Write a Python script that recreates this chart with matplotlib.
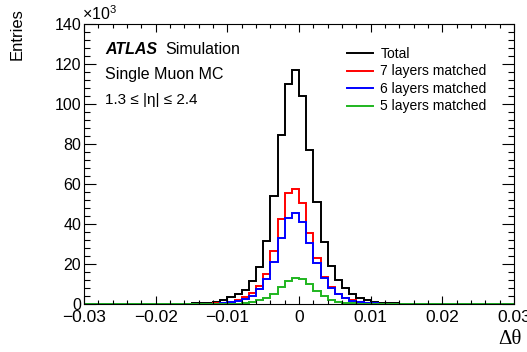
import numpy as np
import matplotlib
matplotlib.use("Agg")
import matplotlib.pyplot as plt
from matplotlib.ticker import MultipleLocator, FuncFormatter

plt.rcParams["font.family"] = ["Liberation Sans", "DejaVu Sans"]
plt.rcParams["mathtext.fontset"] = "custom"
plt.rcParams["mathtext.rm"] = "Liberation Sans"
plt.rcParams["mathtext.it"] = "Liberation Sans:italic"

# ── data: Δθ histograms, 60 bins of 0.001 from -0.03 to 0.03, entries in 10^3 ──
edges = np.round(np.linspace(-0.03, 0.03, 61), 4)

total = [0.05, 0.05, 0.05, 0.1, 0.1, 0.1, 0.1, 0.15, 0.15, 0.2,
         0.2, 0.25, 0.3, 0.35, 0.4, 0.5, 0.6, 0.8, 1.3, 2.2,
         3.5, 5.0, 7.2, 11.5, 18.8, 31.6, 54.1, 84.7, 110.2, 117.3,
         104.3, 77.2, 51.0, 31.3, 19.2, 12.2, 8.0, 5.2, 3.3, 2.2,
         1.4, 0.9, 0.6, 0.45, 0.35, 0.3, 0.25, 0.2, 0.15, 0.15,
         0.1, 0.1, 0.1, 0.05, 0.05, 0.05, 0.05, 0.05, 0.05, 0.05]

layers7 = [0.02, 0.02, 0.03, 0.03, 0.04, 0.04, 0.05, 0.05, 0.06, 0.07,
           0.08, 0.1, 0.12, 0.15, 0.18, 0.22, 0.28, 0.35, 0.5, 0.8,
           1.3, 2.3, 3.5, 5.5, 9.0, 15.2, 26.8, 42.5, 55.5, 57.6,
           50.5, 35.8, 23.0, 13.8, 8.5, 5.2, 3.3, 2.0, 1.3, 0.8,
           0.55, 0.4, 0.3, 0.22, 0.18, 0.15, 0.12, 0.1, 0.08, 0.07,
           0.06, 0.05, 0.05, 0.04, 0.04, 0.03, 0.03, 0.02, 0.02, 0.02]

layers6 = [0.02, 0.02, 0.02, 0.03, 0.03, 0.04, 0.04, 0.05, 0.05, 0.06,
           0.07, 0.08, 0.1, 0.12, 0.14, 0.17, 0.22, 0.28, 0.4, 0.6,
           1.0, 1.7, 2.7, 4.4, 7.5, 12.5, 21.3, 33.0, 43.0, 45.8,
           41.3, 30.8, 20.8, 13.2, 8.3, 5.0, 3.1, 1.9, 1.2, 0.75,
           0.5, 0.35, 0.25, 0.18, 0.14, 0.12, 0.1, 0.08, 0.07, 0.06,
           0.05, 0.04, 0.04, 0.03, 0.03, 0.02, 0.02, 0.02, 0.02, 0.02]

layers5 = [0.01, 0.01, 0.01, 0.01, 0.01, 0.01, 0.01, 0.01, 0.02, 0.02,
           0.02, 0.02, 0.03, 0.03, 0.04, 0.05, 0.06, 0.08, 0.1, 0.15,
           0.2, 0.3, 0.5, 1.0, 2.0, 3.3, 5.3, 8.6, 11.5, 13.0,
           12.6, 10.0, 6.5, 4.0, 2.3, 1.3, 0.8, 0.5, 0.3, 0.2,
           0.15, 0.1, 0.08, 0.06, 0.05, 0.04, 0.03, 0.03, 0.02, 0.02,
           0.02, 0.01, 0.01, 0.01, 0.01, 0.01, 0.01, 0.01, 0.01, 0.01]

series = [
    (total, "black", "Total"),
    (layers7, "#ff0000", "7 layers matched"),
    (layers6, "#0000ff", "6 layers matched"),
    (layers5, "#1fb51f", "5 layers matched"),
]

W, H = 527, 352
fig = plt.figure(figsize=(W / 100, H / 100), dpi=100)
ax = fig.add_axes([84 / W, 1 - 304.3 / H, (514 - 84) / W, (304.3 - 24.3) / H])

for vals, col, lab in series:
    ax.stairs(vals, edges, color=col, lw=1.4, label=lab)

ax.set_xlim(-0.03, 0.03)
ax.set_ylim(0, 140)

# ── ROOT-like axes ────────────────────────────────────────────────────────────
ax.xaxis.set_major_locator(MultipleLocator(0.01))
ax.xaxis.set_minor_locator(MultipleLocator(0.002))
ax.yaxis.set_major_locator(MultipleLocator(20))
ax.yaxis.set_minor_locator(MultipleLocator(4))
ax.xaxis.set_major_formatter(FuncFormatter(
    lambda v, p: "0" if abs(v) < 1e-9 else f"{v:.2f}".replace("-", "\u2212")))
ax.tick_params(which="both", direction="in", top=True, right=True, width=0.8)
ax.tick_params(axis="x", which="major", length=6, pad=4, labelsize=12.5)
ax.tick_params(axis="x", which="minor", length=3)
ax.tick_params(axis="y", which="major", length=8.5, pad=2, labelsize=11.5)
ax.tick_params(axis="y", which="minor", length=4.3)
for s in ax.spines.values():
    s.set_linewidth(0.8)

fig.text(17 / W, 1 - 8 / H, "Entries", rotation=90, ha="center", va="top", fontsize=12)
fig.text(522 / W, 1 - 340 / H, "\u0394\u03b8", ha="right", va="center",
         fontsize=15, family=["Liberation Serif", "DejaVu Serif"])
fig.text(82 / W, 1 - 14 / H, "\u00d710$^{3}$", ha="left", va="center", fontsize=11.5)

# ── labels ────────────────────────────────────────────────────────────────────
fig.text(105 / W, 1 - 49 / H, "ATLAS", fontsize=11.5, fontweight="bold",
         fontstyle="italic", va="center")
fig.text(165 / W, 1 - 49 / H, "Simulation", fontsize=11.5, va="center")
fig.text(105 / W, 1 - 74 / H, "Single Muon MC", fontsize=11.5, va="center")
fig.text(105 / W, 1 - 100 / H, "1.3 \u2264 |\u03b7| \u2264 2.4", fontsize=11, va="center")

ax.legend(loc="upper left", bbox_to_anchor=(347 / W, 1 - 47 / H),
          bbox_transform=fig.transFigure, frameon=False, fontsize=10,
          handlelength=1.9, handletextpad=0.5, labelspacing=0.25,
          borderpad=0, borderaxespad=0)

fig.savefig("out.png", dpi=100)
